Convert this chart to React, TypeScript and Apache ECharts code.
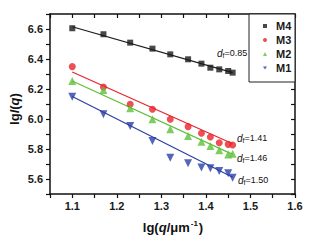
import React, { useEffect, useRef } from "react";
import * as echarts from "echarts";

const lgQ = [1.1, 1.17, 1.23, 1.28, 1.32, 1.36, 1.39, 1.41, 1.43, 1.45, 1.46];
const m4 = [6.605, 6.565, 6.509, 6.469, 6.431, 6.398, 6.369, 6.342, 6.331, 6.32, 6.309];
const m3 = [6.349, 6.213, 6.098, 6.065, 5.998, 5.949, 5.905, 5.88, 5.842, 5.831, 5.827];
const m2 = [6.253, 6.193, 6.071, 5.998, 5.931, 5.887, 5.849, 5.82, 5.791, 5.764, 5.769];
const m1 = [6.149, 6.031, 5.953, 5.853, 5.742, 5.705, 5.676, 5.671, 5.653, 5.638, 5.609];

const fitX = [1.1, 1.46];
const fitM4 = [6.615, 6.309];
const fitM3 = [6.313, 5.835];
const fitM2 = [6.253, 5.764];
const fitM1 = [6.15, 5.612];

const seriesNames = ["M4", "M3", "M2", "M1"];
const dfLabels = ["0.85", "1.41", "1.46", "1.50"];

const colors = ["#1a1a1a", "#e8232a", "#5fc03a", "#2b3ea6"];
const FONT = "Liberation Sans, Arial, sans-serif";

const zip = (xs: number[], ys: number[]) => xs.map((x, i) => [x, ys[i]]);

export default function App() {
  const ref = useRef<HTMLDivElement>(null);
  useEffect(() => {
    if (!ref.current) return;
    const chart = echarts.init(ref.current, null, { renderer: "svg" });
    const all = [m4, m3, m2, m1];
    const fits = [fitM4, fitM3, fitM2, fitM1];
    const symbols = ["rect", "circle", "triangle", "triangle"];
    const sizes = [6, 7, 8, 8];
    const rot = [0, 0, 0, 180];
    const scatter = all.map((d, i) => ({
      type: "scatter",
      name: seriesNames[i],
      data: zip(lgQ, d),
      symbol: symbols[i],
      symbolSize: sizes[i],
      symbolRotate: rot[i],
      itemStyle: { color: colors[i] },
      z: 3,
    }));
    const lines = fits.map((d, i) => ({
      type: "line",
      name: seriesNames[i] + "fit",
      data: zip(fitX, d),
      showSymbol: false,
      lineStyle: { color: colors[i], width: 1.2 },
      z: 2,
    }));
    const dfPos = [
      [217, 53],
      [237, 138],
      [237, 158],
      [238, 180],
    ];
    const dfTexts = dfLabels.map((v, i) => ({
      type: "text",
      x: dfPos[i][0],
      y: dfPos[i][1],
      style: {
        text: "{d|d}{f|f}{v|=" + v + "}",
        verticalAlign: "middle",
        rich: {
          d: { fontFamily: FONT, fontSize: 10, fontStyle: "italic", fill: "#111" },
          f: { fontFamily: FONT, fontSize: 7, fill: "#111", padding: [5, 0, 0, 0] },
          v: { fontFamily: FONT, fontSize: 9, fill: "#111" },
        },
      },
    }));
    const tickLabel = { fontFamily: FONT, fontSize: 11, fontWeight: "bold", color: "#1a1a1a" };
    const axisLine = { show: true, lineStyle: { color: "#111", width: 1.5 } };
    chart.setOption({
      animation: false,
      grid: { left: 50, right: 20, top: 14, bottom: 47 },
      xAxis: [
        {
          type: "value",
          min: 1.05,
          max: 1.6,
          interval: 0.05,
          axisLine,
          axisTick: { show: true, length: 4, lineStyle: { color: "#111", width: 1.2 } },
          axisLabel: {
            ...tickLabel,
            margin: 6,
            formatter: (v: number) => (Math.round(v * 100) % 10 === 0 ? v.toFixed(1) : ""),
          },
          splitLine: { show: false },
        },
        {
          type: "value",
          position: "top",
          min: 1.05,
          max: 1.6,
          interval: 0.05,
          axisLine,
          axisTick: { show: true, inside: true, length: 4, lineStyle: { color: "#111", width: 1.2 } },
          axisLabel: { show: false },
          splitLine: { show: false },
        },
      ],
      yAxis: [
        {
          type: "value",
          min: 5.5,
          max: 6.7,
          interval: 0.1,
          axisLine,
          axisTick: { show: true, length: 4, lineStyle: { color: "#111", width: 1.2 } },
          axisLabel: {
            ...tickLabel,
            margin: 7,
            formatter: (v: number) => (Math.round(v * 10) % 2 === 0 ? v.toFixed(1) : ""),
          },
          splitLine: { show: false },
        },
        {
          type: "value",
          position: "right",
          min: 5.5,
          max: 6.7,
          interval: 0.1,
          axisLine,
          axisTick: { show: true, inside: true, length: 4, lineStyle: { color: "#111", width: 1.2 } },
          axisLabel: { show: false },
          splitLine: { show: false },
        },
      ],
      legend: {
        data: seriesNames.map((n, i) =>
          i === 3 ? { name: n, icon: "path://M0,0L2,0L1,1.6Z" } : { name: n }
        ),
        orient: "vertical",
        left: 263,
        top: 19,
        z: 20,
        itemWidth: 4,
        itemHeight: 4,
        itemGap: 0,
        padding: 0,
        textStyle: { fontFamily: FONT, fontSize: 11, fontWeight: "bold", color: "#1a1a1a", lineHeight: 14, padding: [0, 0, 0, 4] },
      },
      graphic: [
        {
          type: "rect",
          z: 10,
          shape: { x: 249, y: 14, width: 46, height: 68 },
          style: { fill: "#fff", stroke: "#222", lineWidth: 1 },
        },
        ...dfTexts,
        {
          type: "text",
          x: 14,
          y: 109,
          rotation: Math.PI / 2,
          style: {
            text: "{b|lg}{i|I}{b|(}{i|q}{b|)}",
            align: "center",
            verticalAlign: "middle",
            rich: {
              b: { fontFamily: FONT, fontSize: 13, fontWeight: "bold", fill: "#111" },
              i: { fontFamily: FONT, fontSize: 13, fontWeight: "bold", fontStyle: "italic", fill: "#111" },
            },
          },
        },
        {
          type: "text",
          x: 173,
          y: 227,
          style: {
            text: "{b|lg(}{i|q}{b|/μm}{s|-1}{b|)}",
            align: "center",
            verticalAlign: "middle",
            rich: {
              b: { fontFamily: FONT, fontSize: 13, fontWeight: "bold", fill: "#111" },
              i: { fontFamily: FONT, fontSize: 13, fontWeight: "bold", fontStyle: "italic", fill: "#111" },
              s: { fontFamily: FONT, fontSize: 8, fontWeight: "bold", fill: "#111", padding: [0, 1, 8, 1] },
            },
          },
        },
      ],
      series: [...lines, ...scatter],
    });
    return () => chart.dispose();
  }, []);
  return <div ref={ref} style={{ width: 315, height: 241, position: "absolute", left: 0, top: 0 }} />;
}
